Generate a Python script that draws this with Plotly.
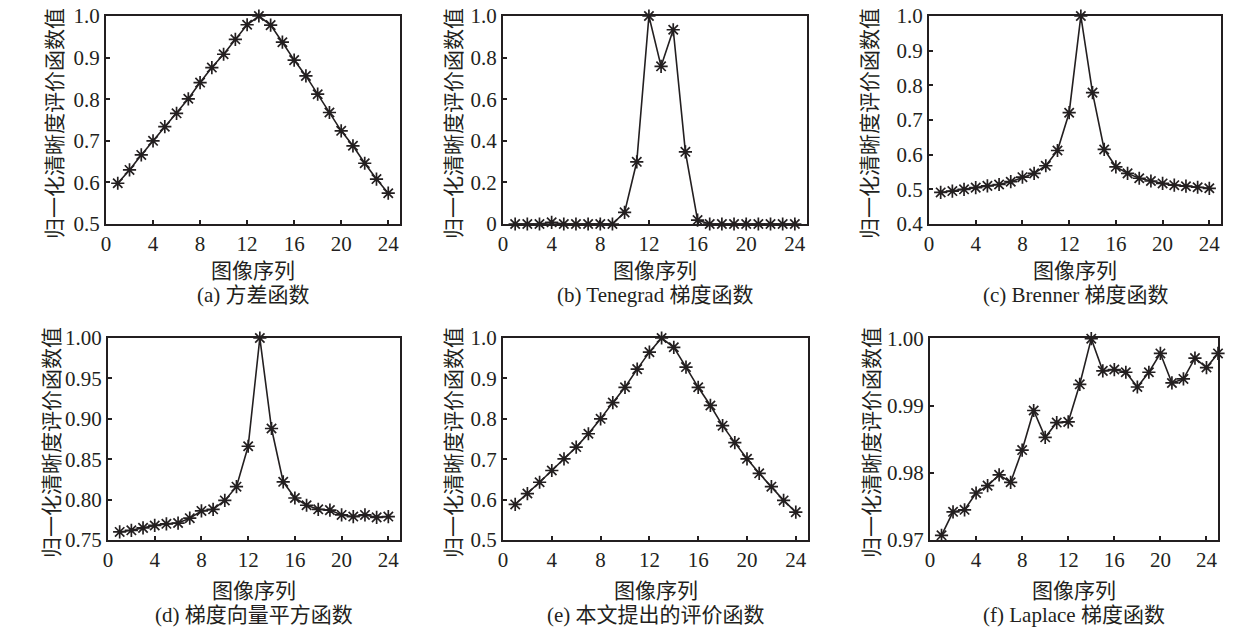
import plotly.graph_objects as go
from plotly.subplots import make_subplots

# image index 1..24 (Laplace panel has 25)
seq = list(range(1, 25))
seq_f = list(range(1, 26))

var_fn = [0.598, 0.630, 0.666, 0.700, 0.734, 0.766, 0.801, 0.840, 0.876, 0.908, 0.944, 0.979,
          1.000, 0.978, 0.937, 0.894, 0.856, 0.812, 0.768, 0.724, 0.688, 0.646, 0.608, 0.574]
tenegrad = [0, 0, 0, 0.008, 0, 0, 0, 0, 0, 0.056, 0.299, 1.000,
            0.758, 0.934, 0.347, 0.019, 0, 0, 0, 0, 0, 0, 0, 0]
brenner = [0.491, 0.495, 0.500, 0.505, 0.510, 0.514, 0.522, 0.535, 0.546, 0.568, 0.612, 0.721,
           1.000, 0.779, 0.615, 0.565, 0.546, 0.532, 0.524, 0.517, 0.512, 0.509, 0.506, 0.503]
grad_sq = [0.760, 0.762, 0.765, 0.768, 0.770, 0.771, 0.777, 0.786, 0.788, 0.799, 0.816, 0.866,
           1.000, 0.888, 0.822, 0.802, 0.793, 0.788, 0.787, 0.781, 0.779, 0.781, 0.778, 0.779]
proposed = [0.588, 0.615, 0.643, 0.672, 0.701, 0.730, 0.763, 0.800, 0.840, 0.878, 0.923, 0.965,
            1.000, 0.977, 0.928, 0.878, 0.833, 0.783, 0.741, 0.701, 0.665, 0.632, 0.598, 0.569]
laplace = [0.9707, 0.9742, 0.9745, 0.9770, 0.9781, 0.9797, 0.9786, 0.9834, 0.9893, 0.9853,
           0.9875, 0.9876, 0.9932, 1.0000, 0.9952, 0.9954, 0.9950, 0.9928, 0.9950, 0.9978,
           0.9934, 0.9940, 0.9971, 0.9957, 0.9978]

captions = ["(a) 方差函数", "(b) Tenegrad 梯度函数", "(c) Brenner 梯度函数",
            "(d) 梯度向量平方函数", "(e) 本文提出的评价函数", "(f) Laplace 梯度函数"]
x_ticks = [0, 4, 8, 12, 16, 20, 24]
y_ticks = [
    ([0.5, 0.6, 0.7, 0.8, 0.9, 1.0], ["0.5", "0.6", "0.7", "0.8", "0.9", "1.0"]),
    ([0, 0.2, 0.4, 0.6, 0.8, 1.0], ["0", "0.2", "0.4", "0.6", "0.8", "1.0"]),
    ([0.4, 0.5, 0.6, 0.7, 0.8, 0.9, 1.0], ["0.4", "0.5", "0.6", "0.7", "0.8", "0.9", "1.0"]),
    ([0.75, 0.80, 0.85, 0.90, 0.95, 1.00], ["0.75", "0.80", "0.85", "0.90", "0.95", "1.00"]),
    ([0.5, 0.6, 0.7, 0.8, 0.9, 1.0], ["0.5", "0.6", "0.7", "0.8", "0.9", "1.0"]),
    ([0.97, 0.98, 0.99, 1.00], ["0.97", "0.98", "0.99", "1.00"]),
]
y_ranges = [[0.5, 1.0], [0, 1.0], [0.4, 1.0], [0.75, 1.0], [0.5, 1.0], [0.97, 1.0001]]

series = [(seq, var_fn), (seq, tenegrad), (seq, brenner),
          (seq, grad_sq), (seq, proposed), (seq_f, laplace)]

# plot boxes measured in pixels off the reference (left, right, top, bottom)
W, H = 1260, 628
boxes = [(106, 400, 16, 224), (503, 807, 16, 224), (929, 1221, 16, 224),
         (108, 400, 338, 540), (503, 808, 338, 540), (930, 1218, 338, 540)]
ytitle_x = [53, 452, 868, 50, 452, 870]

ink = "#231f20"
serif = "Liberation Serif, Times New Roman, serif"
cjk = "Liberation Serif, Noto Sans CJK SC, serif"
cjk_only = "Noto Sans CJK SC"

fig = make_subplots(rows=2, cols=3)

for i, (xs, ys) in enumerate(series):
    r, c = i // 3 + 1, i % 3 + 1
    fig.add_trace(go.Scatter(
        x=xs, y=ys, mode="lines+markers",
        line=dict(color=ink, width=1.6),
        marker=dict(symbol="asterisk-open", size=11, line=dict(color=ink, width=1.7)),
        showlegend=False, cliponaxis=False), row=r, col=c)

    left, right, top, bottom = boxes[i]
    axis_common = dict(showgrid=False, zeroline=False, showline=True, mirror=True,
                       linecolor=ink, linewidth=2, ticks="inside", ticklen=4,
                       tickcolor=ink, tickwidth=1.5, automargin=False,
                       tickfont=dict(family=serif, size=21, color=ink))
    fig.update_xaxes(domain=[left / W, right / W], range=[0, 25],
                     tickvals=x_ticks, row=r, col=c, **axis_common)
    fig.update_yaxes(domain=[1 - bottom / H, 1 - top / H], range=y_ranges[i],
                     tickvals=y_ticks[i][0], ticktext=y_ticks[i][1],
                     row=r, col=c, **axis_common)

    cx = (left + right) / 2
    row_off = 0 if r == 1 else 320
    anch = dict(xref="paper", yref="paper", showarrow=False,
                xanchor="center", yanchor="middle")
    fig.add_annotation(text="图像序列", x=cx / W, y=1 - (269 + row_off) / H,
                       font=dict(family=cjk_only, size=21, color=ink), **anch)
    fig.add_annotation(text=captions[i], x=cx / W, y=1 - (295 + row_off) / H,
                       font=dict(family=cjk, size=21, color=ink), **anch)
    fig.add_annotation(text="归一化清晰度评价函数值", x=ytitle_x[i] / W,
                       y=1 - ((top + bottom) / 2 + 4) / H, textangle=-90,
                       font=dict(family=cjk_only, size=21, color=ink), **anch)

fig.update_layout(width=W, height=H, margin=dict(l=0, r=0, t=0, b=0),
                  plot_bgcolor="white", paper_bgcolor="white")

# the page body has a default 8px margin; drop it so the figure sits at 0,0
fig.write_html("out.html", config={"displayModeBar": False},
               post_script="document.body.style.margin='0';")
